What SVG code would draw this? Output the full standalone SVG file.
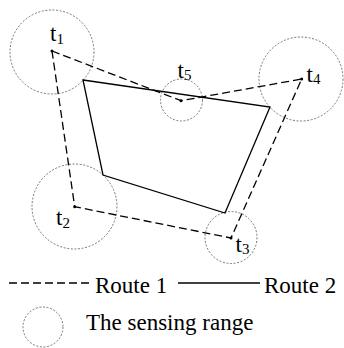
<svg xmlns="http://www.w3.org/2000/svg" width="344" height="348" viewBox="0 0 344 348">
<style>
.range{fill:none;stroke:#555;stroke-width:0.8;stroke-dasharray:2,1.6}
.r1{fill:none;stroke:#000;stroke-width:1.3;stroke-dasharray:8,4}
.r2{fill:none;stroke:#000;stroke-width:1.3}
.dot{fill:#000}
text{font-family:"Liberation Serif","Times New Roman",serif;fill:#000}
.lbl{font-size:23px}
.sub{font-size:15px}
.leg{font-size:23px}
</style>
<rect width="344" height="348" fill="#fff"/>
<g id="t1"><circle class="range" cx="52" cy="52" r="42"/><circle class="dot" cx="52" cy="51" r="1.5"/><text class="lbl" x="50" y="41">t<tspan class="sub" dy="3">1</tspan></text></g>
<g id="t5"><circle class="range" cx="181.5" cy="100" r="21"/><circle class="dot" cx="181" cy="100.7" r="1.5"/><text class="lbl" x="177.5" y="78">t<tspan class="sub" dy="2">5</tspan></text></g>
<g id="t4"><circle class="range" cx="301" cy="79" r="42"/><circle class="dot" cx="301.7" cy="79" r="1.5"/><text class="lbl" x="306.5" y="82">t<tspan class="sub" dy="2">4</tspan></text></g>
<g id="t2"><circle class="range" cx="74.5" cy="206.5" r="42.5"/><circle class="dot" cx="74.7" cy="206.7" r="1.5"/><text class="lbl" x="56" y="225">t<tspan class="sub" dy="3">2</tspan></text></g>
<g id="t3"><circle class="range" cx="231" cy="237.5" r="26"/><circle class="dot" cx="231" cy="238" r="1.5"/><text class="lbl" x="235.5" y="251.5">t<tspan class="sub" dy="2.5">3</tspan></text></g>
<g id="connectors">
<polygon class="r2" points="83,80 270,107 225,213 103,175"/>
<polyline class="r1" points="52,51 181,100.7 301.7,79 231,238 74.7,206.7 52,51"/>
</g>
<g id="legend">
<line class="r1" x1="9" y1="283" x2="91" y2="283" stroke-dasharray="7,5"/>
<text class="leg" x="95" y="293">Route 1</text>
<line class="r2" x1="178" y1="283" x2="260" y2="283"/>
<text class="leg" x="264" y="293">Route 2</text>
<circle class="range" cx="43" cy="327" r="20"/>
<text class="leg" x="86" y="330">The sensing range</text>
</g>
</svg>
